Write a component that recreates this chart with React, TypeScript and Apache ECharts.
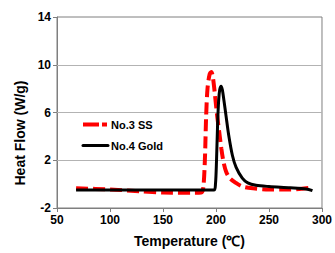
import React, { useEffect, useRef } from "react";
import * as echarts from "echarts";

const ssData: [number, number][] = [
  [68, -0.35], [100, -0.45], [130, -0.6], [150, -0.7], [180, -0.72], [186, -0.7],
  [188, -0.3], [189.5, 2], [190.7, 5.7], [192, 8], [194, 9.2], [195.6, 9.4],
  [197, 9.0], [199, 7.5], [201, 5.8], [203, 4.4], [205, 3.0], [207, 1.9],
  [209.5, 1.06], [213, 0.5], [218.8, 0.1], [225, -0.2], [235, -0.35],
  [250, -0.45], [270, -0.45], [290, -0.3],
];
const goldData: [number, number][] = [
  [68, -0.5], [100, -0.5], [150, -0.5], [198, -0.5], [199.5, 0], [200.5, 2],
  [201.5, 5], [202.5, 7], [203.5, 7.9], [204.8, 8.2], [206, 7.9], [207.5, 7],
  [209.5, 5.7], [212, 4.1], [215.5, 2.4], [219, 1.4], [224.8, 0.5], [230, 0.1],
  [237.7, -0.1], [250, -0.2], [270, -0.3], [285, -0.4], [291, -0.55],
];
const yTicks = [-2, 2, 6, 10, 14];
const gridValues = [2, 6, 10];
const seriesNames = ["No.3 SS", "No.4 Gold"];

export default function App() {
  const ref = useRef<HTMLDivElement>(null);
  useEffect(() => {
    if (!ref.current) return;
    const chart = echarts.init(ref.current, undefined, { renderer: "svg" });
    const font = "Liberation Sans, Arial, sans-serif";
    const axisColor = "#7f7f7f";
    chart.setOption({
      animation: false,
      textStyle: { fontFamily: font },
      grid: { left: 57, right: 11, top: 17, bottom: 43, show: true, borderColor: axisColor, borderWidth: 1 },
      xAxis: {
        type: "value",
        min: 50,
        max: 300,
        interval: 50,
        name: "Temperature (℃)",
        nameLocation: "middle",
        nameGap: 26,
        nameTextStyle: { fontFamily: font, fontWeight: "bold", fontSize: 14, color: "#000" },
        axisLine: { show: true, onZero: false, lineStyle: { color: axisColor } },
        axisTick: { show: true, length: 4, lineStyle: { color: axisColor } },
        axisLabel: { fontFamily: font, fontWeight: "bold", fontSize: 12, color: "#000", margin: 6 },
        splitLine: { show: false },
      },
      yAxis: {
        type: "value",
        min: -2,
        max: 14,
        axisLine: { show: true, onZero: false, lineStyle: { color: axisColor } },
        axisTick: { show: true, length: 4, customValues: yTicks, lineStyle: { color: axisColor } },
        axisLabel: { fontFamily: font, fontWeight: "bold", fontSize: 12, color: "#000", margin: 6, customValues: yTicks },
        splitLine: { show: false },
      },
      graphic: [
        {
          type: "text",
          x: 20,
          y: 133,
          rotation: Math.PI / 2,
          style: {
            text: "Heat Flow (W/g)",
            align: "center",
            verticalAlign: "middle",
            font: `bold 14px ${font}`,
            fill: "#000",
          },
        },
        {
          type: "line",
          shape: { x1: 83, y1: 124.5, x2: 107, y2: 124.5 },
          style: { stroke: "#ff0000", lineWidth: 4, lineDash: [16, 3] },
        },
        {
          type: "text",
          x: 111,
          y: 125,
          style: { text: seriesNames[0], verticalAlign: "middle", font: `bold 11px ${font}`, fill: "#000" },
        },
        {
          type: "line",
          shape: { x1: 83, y1: 145.5, x2: 108, y2: 145.5 },
          style: { stroke: "#000", lineWidth: 3, lineCap: "round" },
        },
        {
          type: "text",
          x: 111,
          y: 146,
          style: { text: seriesNames[1], verticalAlign: "middle", font: `bold 11px ${font}`, fill: "#000" },
        },
      ],
      series: [
        {
          name: seriesNames[0],
          type: "line",
          data: ssData,
          symbol: "none",
          smooth: 0.3,
          lineStyle: { color: "#ff0000", width: 4, type: [12, 5] },
          itemStyle: { color: "#ff0000" },
          z: 2,
          markLine: {
            silent: true,
            symbol: "none",
            label: { show: false },
            lineStyle: { color: "#b3b3b3", width: 1, type: "solid" },
            data: gridValues.map((v) => ({ yAxis: v })),
            z: 1,
          },
        },
        {
          name: seriesNames[1],
          type: "line",
          data: goldData,
          symbol: "none",
          smooth: 0.3,
          lineStyle: { color: "#000", width: 3 },
          itemStyle: { color: "#000" },
          z: 3,
        },
      ],
    });
    return () => chart.dispose();
  }, []);
  return <div ref={ref} style={{ width: 335, height: 253, position: "absolute", left: 0, top: 0 }} />;
}
